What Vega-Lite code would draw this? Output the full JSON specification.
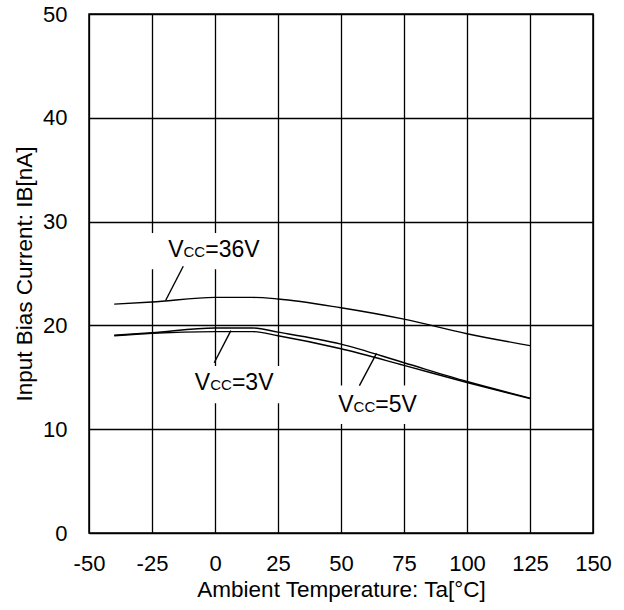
{
  "$schema": "https://vega.github.io/schema/vega-lite/v6.json",
  "width": 504,
  "height": 519,
  "autosize": {"type": "none"},
  "padding": {"left": 89, "top": 14, "right": 31, "bottom": 77},
  "background": "white",
  "config": {
    "font": "Liberation Sans",
    "view": {"stroke": "black", "strokeWidth": 1.5},
    "axis": {
      "grid": true, "gridColor": "black", "gridWidth": 1.3, "gridOpacity": 1,
      "domain": false, "ticks": false, "labelFlush": false, "labelOverlap": false,
      "labelFont": "Liberation Sans", "labelFontSize": 22, "labelColor": "black",
      "labelExpr": "'' + datum.value",
      "titleFont": "Liberation Sans", "titleFontSize": 22.5, "titleColor": "black", "titleFontWeight": "normal"
    }
  },
  "datasets": {
    "curves": [
      {"T": -40, "I": 22.05, "s": "36V"}, {"T": -25, "I": 22.25, "s": "36V"}, {"T": 0, "I": 22.7, "s": "36V"},
      {"T": 15, "I": 22.7, "s": "36V"}, {"T": 25, "I": 22.55, "s": "36V"}, {"T": 50, "I": 21.7, "s": "36V"},
      {"T": 75, "I": 20.6, "s": "36V"}, {"T": 100, "I": 19.2, "s": "36V"}, {"T": 125, "I": 18.05, "s": "36V"},
      {"T": -40, "I": 19.05, "s": "5V"}, {"T": -25, "I": 19.3, "s": "5V"}, {"T": 0, "I": 19.75, "s": "5V"},
      {"T": 15, "I": 19.75, "s": "5V"}, {"T": 25, "I": 19.35, "s": "5V"}, {"T": 50, "I": 18.2, "s": "5V"},
      {"T": 75, "I": 16.4, "s": "5V"}, {"T": 100, "I": 14.6, "s": "5V"}, {"T": 125, "I": 13.0, "s": "5V"},
      {"T": -40, "I": 19.0, "s": "3V"}, {"T": -25, "I": 19.25, "s": "3V"}, {"T": 0, "I": 19.4, "s": "3V"},
      {"T": 15, "I": 19.4, "s": "3V"}, {"T": 25, "I": 19.0, "s": "3V"}, {"T": 50, "I": 17.75, "s": "3V"},
      {"T": 75, "I": 16.15, "s": "3V"}, {"T": 100, "I": 14.5, "s": "3V"}, {"T": 125, "I": 12.95, "s": "3V"}
    ],
    "boxes": [
      {"x1": -28, "x2": 22, "y1": 25.4, "y2": 28.9},
      {"x1": -10, "x2": 27, "y1": 12.5, "y2": 16.1},
      {"x1": 45, "x2": 82, "y1": 10.5, "y2": 14.2}
    ],
    "pointers": [
      {"x1": -12.6, "y1": 25.7, "x2": -19.6, "y2": 22.4},
      {"x1": -0.3, "y1": 16.4, "x2": 6.3, "y2": 19.5},
      {"x1": 57.3, "y1": 14.2, "x2": 64.1, "y2": 17.3}
    ],
    "labels": [
      {"T": -12.5, "I": 26.6, "v": "V", "cc": "CC", "rest": "=36V"},
      {"T": -1.9, "I": 13.8, "v": "V", "cc": "CC", "rest": "=3V"},
      {"T": 55.0, "I": 11.7, "v": "V", "cc": "CC", "rest": "=5V"}
    ]
  },
  "layer": [
    {
      "data": {"name": "boxes"},
      "mark": {"type": "rect", "fill": "white", "stroke": null},
      "encoding": {
        "x": {"field": "x1", "type": "quantitative", "scale": {"domain": [-50, 150], "nice": false},
              "axis": {"values": [-50, -25, 0, 25, 50, 75, 100, 125, 150], "labelPadding": 20, "titlePadding": 4},
              "title": "Ambient Temperature: Ta[°C]"},
        "x2": {"field": "x2"},
        "y": {"field": "y1", "type": "quantitative", "scale": {"domain": [0, 50], "nice": false},
              "axis": {"values": [0, 10, 20, 30, 40, 50], "labelPadding": 22, "titlePadding": 6},
              "title": "Input Bias Current: IB[nA]"},
        "y2": {"field": "y2"}
      }
    },
    {
      "data": {"name": "curves"},
      "mark": {"type": "line", "color": "black", "strokeWidth": 1.4, "interpolate": "monotone"},
      "encoding": {
        "x": {"field": "T", "type": "quantitative"},
        "y": {"field": "I", "type": "quantitative"},
        "detail": {"field": "s"}
      }
    },
    {
      "data": {"name": "pointers"},
      "mark": {"type": "rule", "color": "black", "strokeWidth": 1.4},
      "encoding": {
        "x": {"field": "x1", "type": "quantitative"},
        "y": {"field": "y1", "type": "quantitative"},
        "x2": {"field": "x2"},
        "y2": {"field": "y2"}
      }
    },
    {
      "data": {"name": "labels"},
      "mark": {"type": "text", "font": "Liberation Sans", "fontSize": 23, "color": "black", "baseline": "alphabetic", "align": "right"},
      "encoding": {
        "x": {"field": "T", "type": "quantitative"},
        "y": {"field": "I", "type": "quantitative"},
        "text": {"field": "v"}
      }
    },
    {
      "data": {"name": "labels"},
      "mark": {"type": "text", "font": "Liberation Sans", "fontSize": 15, "color": "black", "baseline": "alphabetic", "align": "left"},
      "encoding": {
        "x": {"field": "T", "type": "quantitative"},
        "y": {"field": "I", "type": "quantitative"},
        "text": {"field": "cc"}
      }
    },
    {
      "data": {"name": "labels"},
      "mark": {"type": "text", "font": "Liberation Sans", "fontSize": 23, "color": "black", "baseline": "alphabetic", "align": "left", "dx": 21.7},
      "encoding": {
        "x": {"field": "T", "type": "quantitative"},
        "y": {"field": "I", "type": "quantitative"},
        "text": {"field": "rest"}
      }
    }
  ]
}
